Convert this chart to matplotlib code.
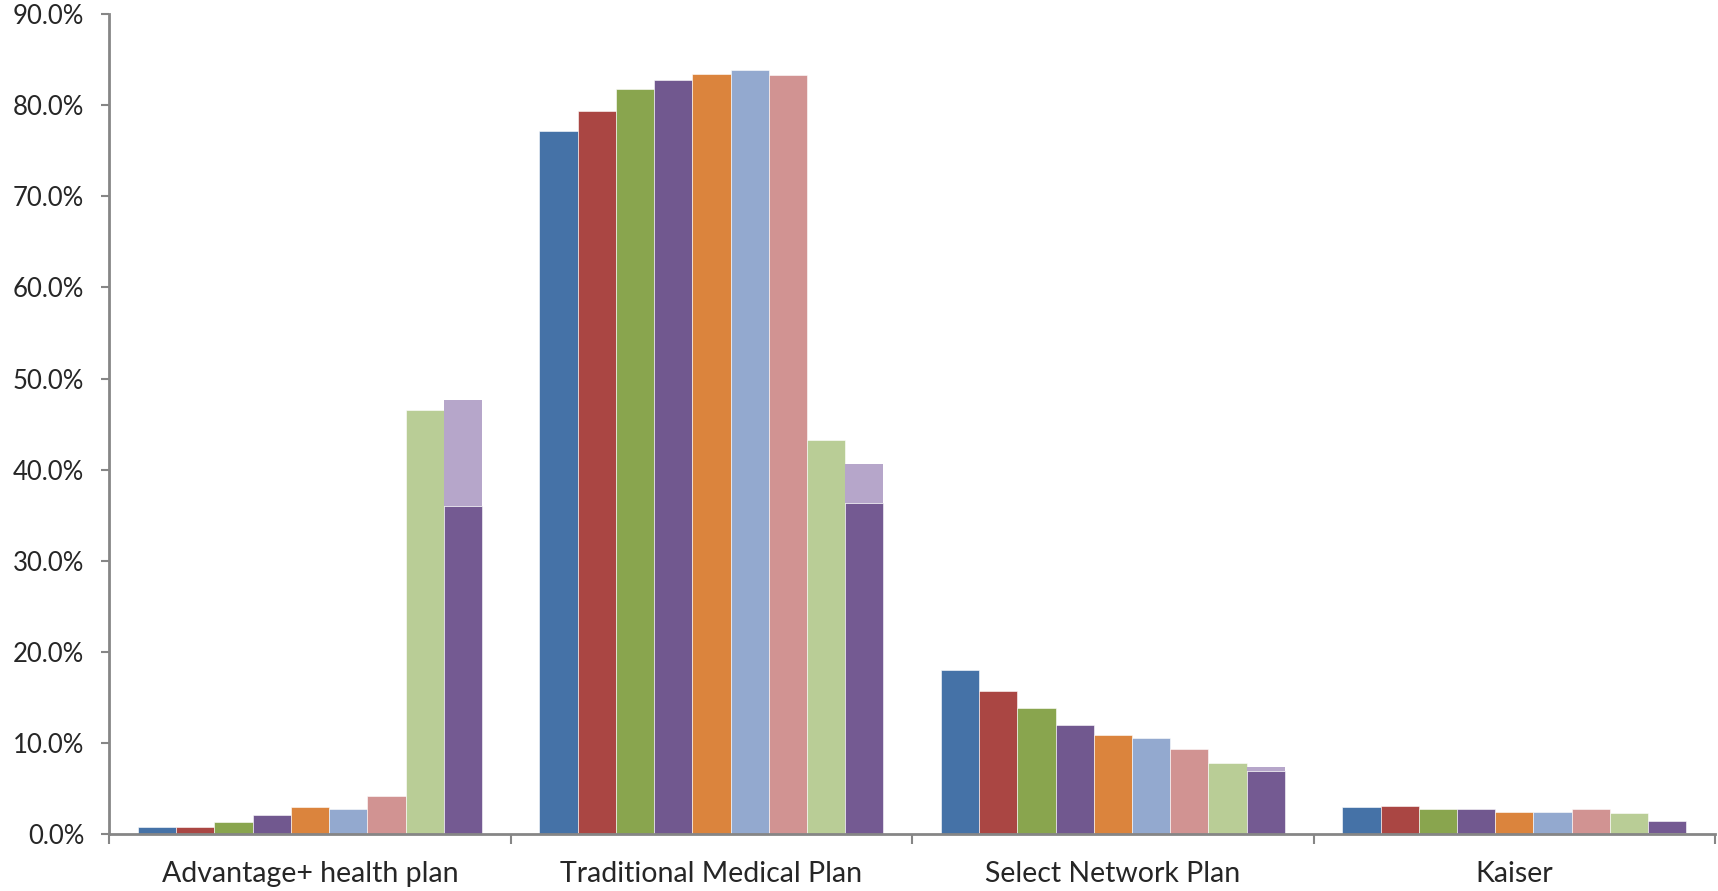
import numpy as np
import matplotlib
matplotlib.use("Agg")
import matplotlib.pyplot as plt
from matplotlib.ticker import FuncFormatter, FixedLocator

plt.rcParams['font.family'] = ['Lato', 'DejaVu Sans']

# categories and series values (percent)
categories = ["Advantage+ health plan", "Traditional Medical Plan", "Select Network Plan", "Kaiser"]
series = [
    [0.77, 77.2, 18.0, 2.98],
    [0.77, 79.4, 15.7, 3.16],
    [1.35, 81.8, 13.9, 2.79],
    [2.16, 82.8, 12.0, 2.79],
    [2.96, 83.4, 10.9, 2.45],
    [2.82, 83.9, 10.6, 2.45],
    [4.25, 83.3, 9.4, 2.79],
    [46.5, 43.3, 7.8, 2.30],
]
colors = ["#4572A7", "#AA4643", "#89A54E", "#71588F", "#DB843D",
          "#93A9CF", "#D19392", "#B9CD96"]

# last slot is a stacked bar: small base, purple, light purple on top
last_base = [0.0, 0.0, 0.0, 0.15]
last_mid = [36.0, 36.4, 6.95, 1.32]
last_top = [11.7, 4.2, 0.4, 0.0]
last_colors = ["#89A54E", "#745A92", "#B6A6CA"]

yticks = np.arange(0, 91, 10)

fig = plt.figure(figsize=(17.18, 8.91), dpi=100)
ax = fig.add_axes([0.0636, 0.0636, 0.9347, 0.9207])

n = len(series) + 1
w = 1 / (n + 1.5)
x = np.arange(len(categories))

for j, vals in enumerate(series):
    ax.bar(x + (j - (n - 1) / 2) * w, vals, w, color=colors[j],
           edgecolor="white", linewidth=0.4)

xl = x + (n - 1 - (n - 1) / 2) * w
b = np.array(last_base)
ax.bar(xl, last_base, w, color=last_colors[0], linewidth=0)
ax.bar(xl, last_mid, w, bottom=b, color=last_colors[1], edgecolor="white", linewidth=0.4)
b = b + np.array(last_mid)
ax.bar(xl, last_top, w, bottom=b, color=last_colors[2], linewidth=0)

ax.set_xlim(-0.5, len(categories) - 0.5)
ax.set_ylim(0, 90)
ax.yaxis.set_major_locator(FixedLocator(yticks))
ax.yaxis.set_major_formatter(FuncFormatter(lambda v, p: f"{v:.1f}%"))

ax.xaxis.set_major_locator(FixedLocator(np.arange(len(categories) + 1) - 0.5))
ax.xaxis.set_major_formatter(FuncFormatter(lambda v, p: ""))
ax.xaxis.set_minor_locator(FixedLocator(x))
ax.set_xticks(x, categories, minor=True)

for s in ["top", "right"]:
    ax.spines[s].set_visible(False)
for s in ["left", "bottom"]:
    ax.spines[s].set_color("#868686")
    ax.spines[s].set_linewidth(2)

ax.tick_params(axis="y", which="major", length=6, width=1.5, color="#868686",
               labelsize=18.5, labelcolor="#262626", pad=12)
ax.tick_params(axis="x", which="major", length=7, width=1.5, color="#868686")
ax.tick_params(axis="x", which="minor", length=0, labelsize=20.5,
               labelcolor="#262626", pad=19)

fig.savefig("out.png", dpi=100)
